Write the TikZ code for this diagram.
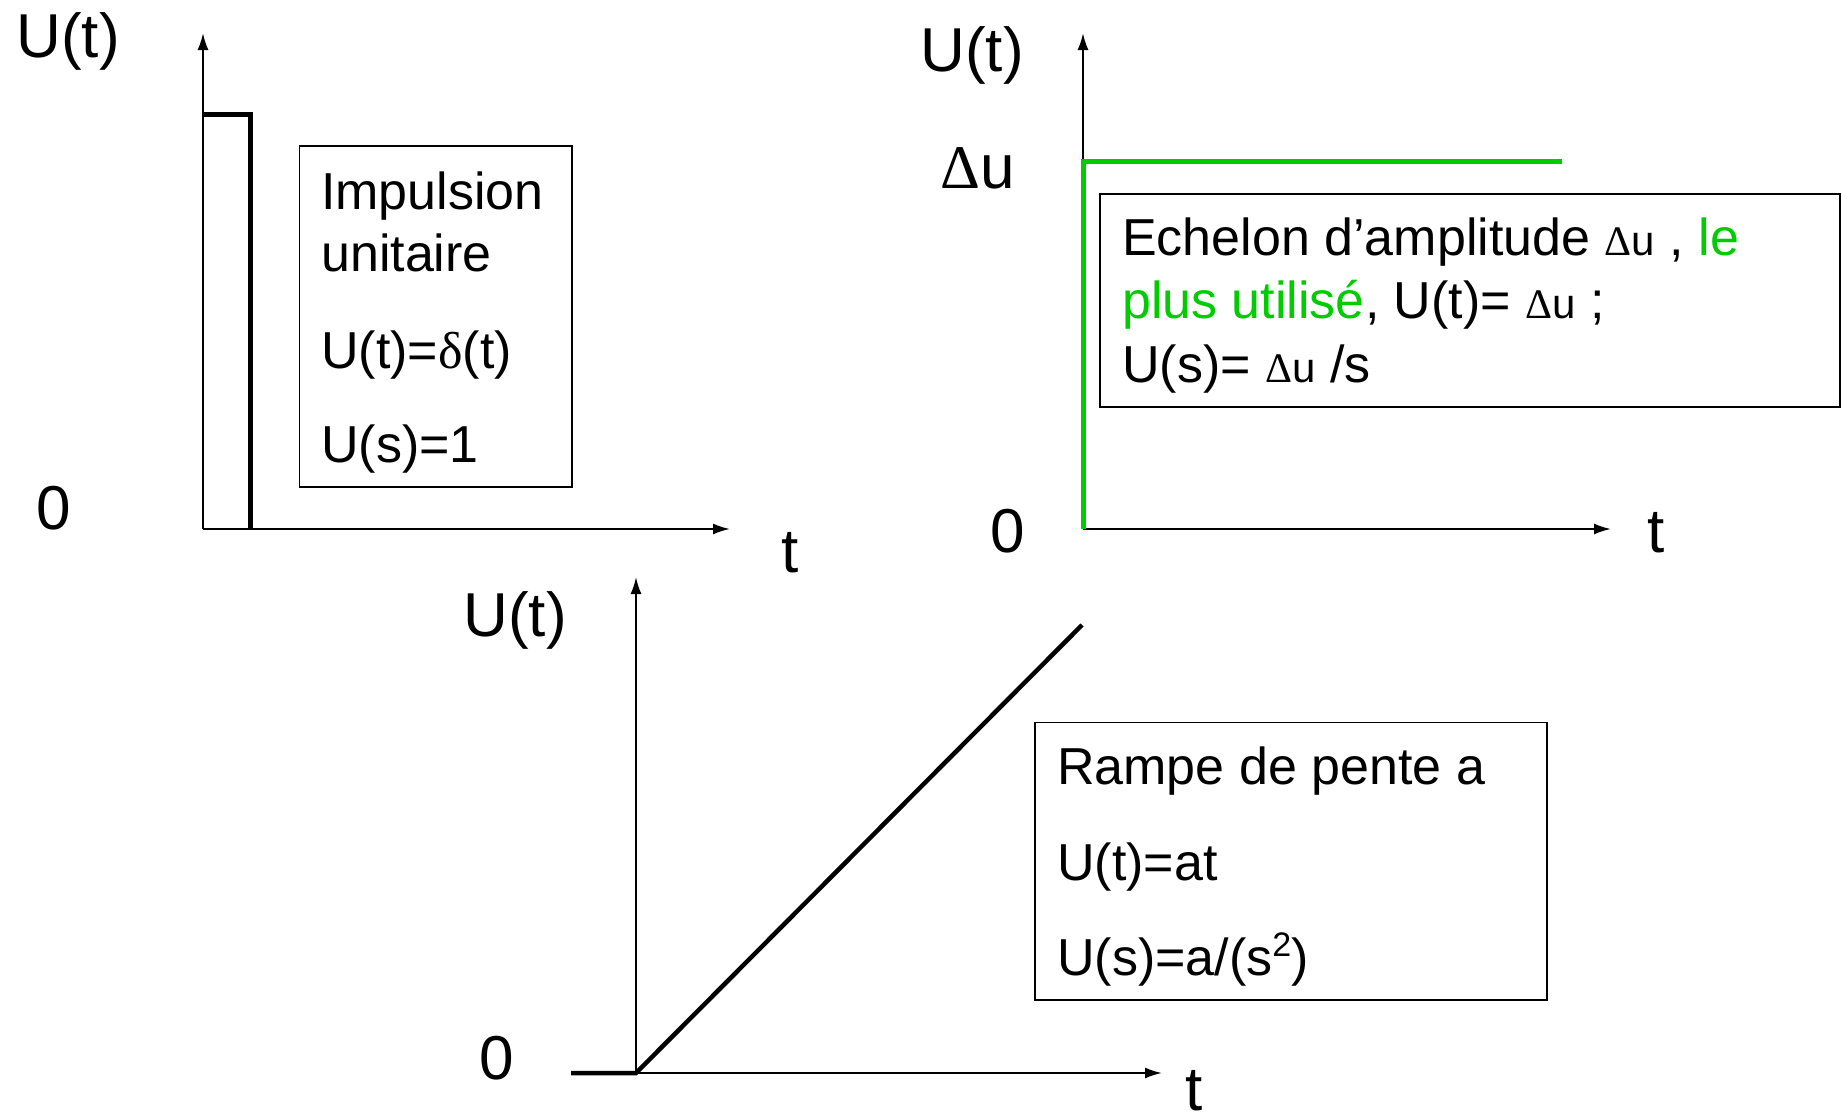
\documentclass[tikz,border=0pt]{standalone}
\usepackage{fontspec}
\setmainfont{Liberation Sans}
\newfontfamily\serifsym{Liberation Serif}
\usetikzlibrary{arrows.meta}
\definecolor{stepgreen}{RGB}{0,204,0}
\newcommand{\smalldu}{{\fontsize{42}{44}\selectfont{\serifsym Δ}u}}
\newcommand{\supertwo}{{\fontsize{34}{36}\selectfont\raisebox{19pt}{2}}}
\begin{document}
\begin{tikzpicture}[x=1pt,y=-1pt,
  axis/.style={line width=2pt,-{Latex[length=17pt,width=11pt]}},
  sig/.style={line width=5pt,line join=miter},
  box/.style={draw,line width=1.8pt,rectangle,inner sep=0pt,anchor=north west},
  boxtxt/.style={anchor=base west,inner sep=0pt,font=\fontsize{52}{60}\selectfont},
  lbl/.style={anchor=base,inner sep=0pt,font=\fontsize{62}{70}\selectfont}]
\useasboundingbox (0,0) rectangle (1841,1114);

% ---------- Graph 1: impulse ----------
\coordinate (o1) at (203,529);
\coordinate (y1) at (203,33);
\coordinate (x1) at (730,529);
\coordinate (p1a) at (203,114);
\coordinate (p1b) at (250,114);
\coordinate (p1c) at (250,529);
\draw[axis] (o1) -- (y1);
\draw[axis] (o1) -- (x1);
\draw[sig] (p1a) -- (p1b) -- (p1c);
\node[box,minimum width=272.5pt,minimum height=341pt] (box1) at (298.5,145) {};
\node[boxtxt] (t1a) at (321,209) {Impulsion};
\node[boxtxt] (t1b) at (321,271) {unitaire};
\node[boxtxt] (t1c) at (321,368) {U(t)={\serifsym δ}(t)};
\node[boxtxt] (t1d) at (321,462) {U(s)=1};
\node[lbl] (l1u) at (68,57) {U(t)};
\node[lbl] (l1o) at (54,529) {0};
\node[lbl] (l1t) at (790,572) {t};

% ---------- Graph 2: step ----------
\coordinate (o2) at (1083,529);
\coordinate (y2) at (1083,33);
\coordinate (x2) at (1611,529);
\coordinate (s2a) at (1083,161);
\coordinate (s2b) at (1562,161);
\draw[axis] (o2) -- (y2);
\draw[axis] (o2) -- (x2);
\draw[sig,stepgreen] (o2) -- (s2a) -- (s2b);
\node[box,minimum width=740pt,minimum height=213pt] (box2) at (1098.7,193) {};
\node[boxtxt] (t2a) at (1122,255) {Echelon d’amplitude \smalldu{} , \textcolor{stepgreen}{le}};
\node[boxtxt] (t2b) at (1122,318) {\textcolor{stepgreen}{plus utilisé}, U(t)= \smalldu{} ;};
\node[boxtxt] (t2c) at (1122,382) {U(s)= \smalldu{} /s};
\node[lbl] (l2u) at (972,71) {U(t)};
\node[lbl] (l2d) at (978,188) {{\serifsym Δ}u};
\node[lbl] (l2o) at (1008,552) {0};
\node[lbl] (l2t) at (1656,552) {t};

% ---------- Graph 3: ramp ----------
\coordinate (o3) at (636,1073);
\coordinate (y3) at (636,577);
\coordinate (x3) at (1162,1073);
\coordinate (r3a) at (571,1073);
\coordinate (r3b) at (1082,625);
\draw[axis] (o3) -- (y3);
\draw[axis] (o3) -- (x3);
\draw[line width=4.5pt] (r3a) -- (o3) -- (r3b);
\node[box,minimum width=512pt,minimum height=277.5pt] (box3) at (1034,721.5) {};
\node[boxtxt] (t3a) at (1057,784) {Rampe de pente a};
\node[boxtxt] (t3b) at (1057,880) {U(t)=at};
\node[boxtxt] (t3c) at (1057,975) {U(s)=a/(s\supertwo)};
\node[lbl] (l3u) at (515,636) {U(t)};
\node[lbl] (l3o) at (497,1079) {0};
\node[lbl] (l3t) at (1194,1110) {t};
\end{tikzpicture}
\end{document}
